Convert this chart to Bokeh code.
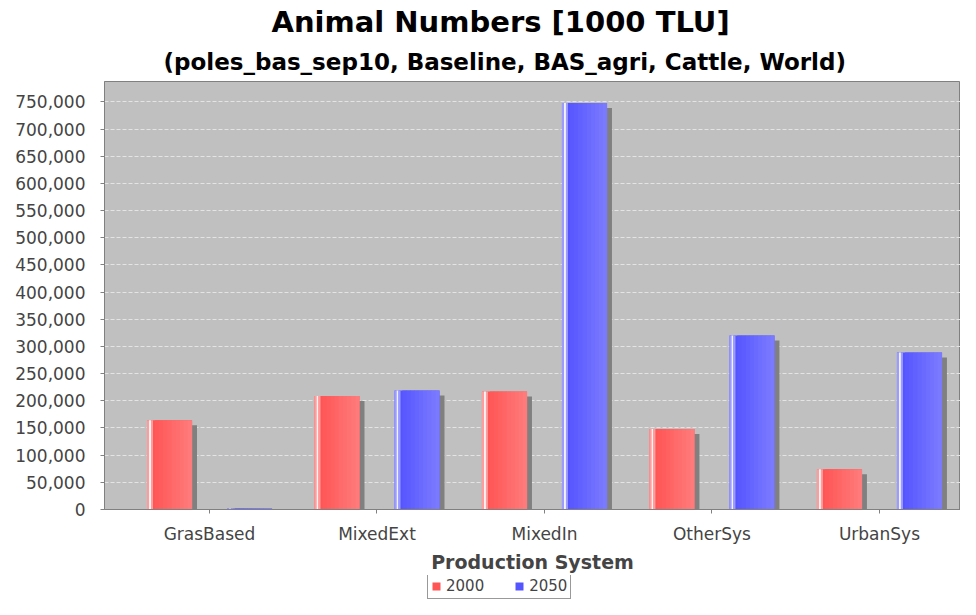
import numpy as np
from bokeh.plotting import figure
from bokeh.layouts import column
from bokeh.models import (Range1d, FixedTicker, NumeralTickFormatter, Title,
                          Legend, LegendItem, ColumnDataSource)
from bokeh.transform import dodge
from bokeh.embed import file_html
from bokeh.resources import INLINE

# ---------------- data ----------------
categories = ["GrasBased", "MixedExt", "MixedIn", "OtherSys", "UrbanSys"]
years = ["2000", "2050"]
values_2000 = [164000, 209000, 217000, 148000, 74000]
values_2050 = [1800, 219000, 748000, 320000, 289000]
y_ticks = list(range(0, 750001, 50000))

x_idx = list(range(len(categories)))
src = ColumnDataSource(dict(x=x_idx, v2000=values_2000, v2050=values_2050))

# ---------------- figure ----------------
X_START, X_END = -0.627, 4.484
Y_END = 787500
FW, FH = 856, 428
p = figure(frame_width=FW, frame_height=FH, output_backend="svg", toolbar_location=None,
           x_range=Range1d(X_START, X_END), y_range=Range1d(0, Y_END),
           min_border_left=104, min_border_right=0, min_border_top=0,
           min_border_bottom=62)
p.background_fill_color = "#C0C0C0"
p.border_fill_color = "white"
p.outline_line_color = "#808080"
p.outline_line_width = 1

PX = (X_END - X_START) / FW      # one screen pixel in x data units
YPX = Y_END / FH                 # one screen pixel in y data units

FONT = "DejaVu Sans"
RED = ("#FF5555", "#FF7A7A", "#FF9C9C", "#FFF2F2")
BLUE = ("#5555FF", "#7A7AFF", "#9C9CFF", "#F2F2FF")

# titles (first added = closest to frame)
sub = Title(text="(poles_bas_sep10, Baseline, BAS_agri, Cattle, World)",
            align="left", offset=59, text_font=FONT, text_font_size="23px",
            text_font_style="bold", text_color="black", standoff=13)
p.add_layout(sub, "above")
main = Title(text="Animal Numbers [1000 TLU]", align="left", offset=167,
             text_font=FONT, text_font_size="29px", text_font_style="bold",
             text_color="black", standoff=4)
p.add_layout(main, "above")

# ---------------- bars ----------------
def mix(c1, c2, t):
    a = [int(c1[i:i + 2], 16) for i in (1, 3, 5)]
    b = [int(c2[i:i + 2], 16) for i in (1, 3, 5)]
    return "#%02x%02x%02x" % tuple(int(round(a[k] + (b[k] - a[k]) * t)) for k in range(3))

BAR_W = 45.0

def draw_series(field, center_px, lo, hi, light, white):
    left = center_px - BAR_W / 2
    # shadow
    p.vbar(x=dodge("x", (center_px + 5) * PX), top=dodge(field, -5 * YPX),
           bottom=0, width=BAR_W * PX, fill_color="#808080", line_color=None,
           source=src)
    base = p.vbar(x=dodge("x", center_px * PX), top=field, bottom=0,
                  width=BAR_W * PX, fill_color=lo, line_color=None, source=src)
    # gradient stripes
    n = 9
    g0, g1 = 8.0, BAR_W
    step = (g1 - g0) / n
    for k in range(n):
        s = g0 + k * step
        c = left + s + step / 2
        p.vbar(x=dodge("x", c * PX), top=field, bottom=0, width=(step + 0.4) * PX,
               fill_color=mix(lo, hi, (k + 1) / n), line_color=None, source=src)
    # left highlight stripes
    for (a, b, col) in [(0.0, 2.0, light), (2.0, 4.0, white), (4.0, 6.0, light)]:
        c = left + (a + b) / 2
        p.vbar(x=dodge("x", c * PX), top=field, bottom=0, width=(b - a) * PX,
               fill_color=col, line_color=None, source=src)
    return base

draw_series("v2000", -40.0, *RED)
draw_series("v2050", 40.0, *BLUE)

# ---------------- axes ----------------
p.xgrid.visible = False
p.ygrid.ticker = FixedTicker(ticks=y_ticks)
p.ygrid.grid_line_color = "#E4E4E4"
p.ygrid.grid_line_dash = "4 2"
p.ygrid.grid_line_width = 1

p.yaxis.ticker = FixedTicker(ticks=y_ticks)
p.yaxis.formatter = NumeralTickFormatter(format="0,0")
p.yaxis.major_label_text_font = FONT
p.yaxis.major_label_text_font_size = "17px"
p.yaxis.major_label_text_color = "#444444"
p.yaxis.axis_line_color = "#808080"
p.yaxis.major_tick_line_color = "#808080"
p.yaxis.major_tick_out = 4
p.yaxis.major_tick_in = 0
p.yaxis.minor_tick_line_color = None
p.yaxis.major_label_standoff = 15

p.xaxis.ticker = FixedTicker(ticks=x_idx)
p.xaxis.major_label_overrides = {i: c for i, c in enumerate(categories)}
p.xaxis.major_label_text_font = FONT
p.xaxis.major_label_text_font_size = "17px"
p.xaxis.major_label_text_color = "#444444"
p.xaxis.axis_line_color = "#808080"
p.xaxis.major_tick_line_color = "#808080"
p.xaxis.major_tick_out = 4
p.xaxis.major_tick_in = 0
p.xaxis.minor_tick_line_color = None
p.xaxis.major_label_standoff = 10
p.xaxis.axis_label = "Production System"
p.xaxis.axis_label_text_font = FONT
p.xaxis.axis_label_text_font_size = "19px"
p.xaxis.axis_label_text_font_style = "bold"
p.xaxis.axis_label_text_color = "#444444"
p.xaxis.axis_label_standoff = 4

# ---------------- legend (separate strip below the chart) ----------------
lf = figure(width=960, height=26, output_backend="svg", toolbar_location=None,
            x_range=Range1d(0, 1), y_range=Range1d(0, 1),
            x_axis_type=None, y_axis_type=None,
            min_border_left=0, min_border_right=0, min_border_top=0,
            min_border_bottom=0)
lf.outline_line_color = None
lf.xgrid.visible = False
lf.ygrid.visible = False
lf.background_fill_color = "white"
lf.border_fill_color = "white"
# zero-size swatch renderers: they only supply the legend colours
d2000 = lf.vbar(x=[0.5], top=[0], bottom=0, width=0, fill_color=RED[0], line_color=None)
d2050 = lf.vbar(x=[0.5], top=[0], bottom=0, width=0, fill_color=BLUE[0], line_color=None)

legend = Legend(items=[LegendItem(label=years[0], renderers=[d2000]),
                       LegendItem(label=years[1], renderers=[d2050])],
                orientation="horizontal", location=(323, 2))
legend.label_text_font = FONT
legend.label_text_font_size = "15px"
legend.label_text_color = "#444444"
legend.glyph_width = 10
legend.glyph_height = 10
legend.label_standoff = 5
legend.spacing = 30
legend.padding = 3
legend.margin = 0
legend.label_height = 16
legend.border_line_color = "#333333"
legend.border_line_width = 1
legend.background_fill_color = "white"
lf.add_layout(legend, "center")

layout = column(p, lf, spacing=0)
open("out.html", "w").write(file_html(layout, INLINE))
